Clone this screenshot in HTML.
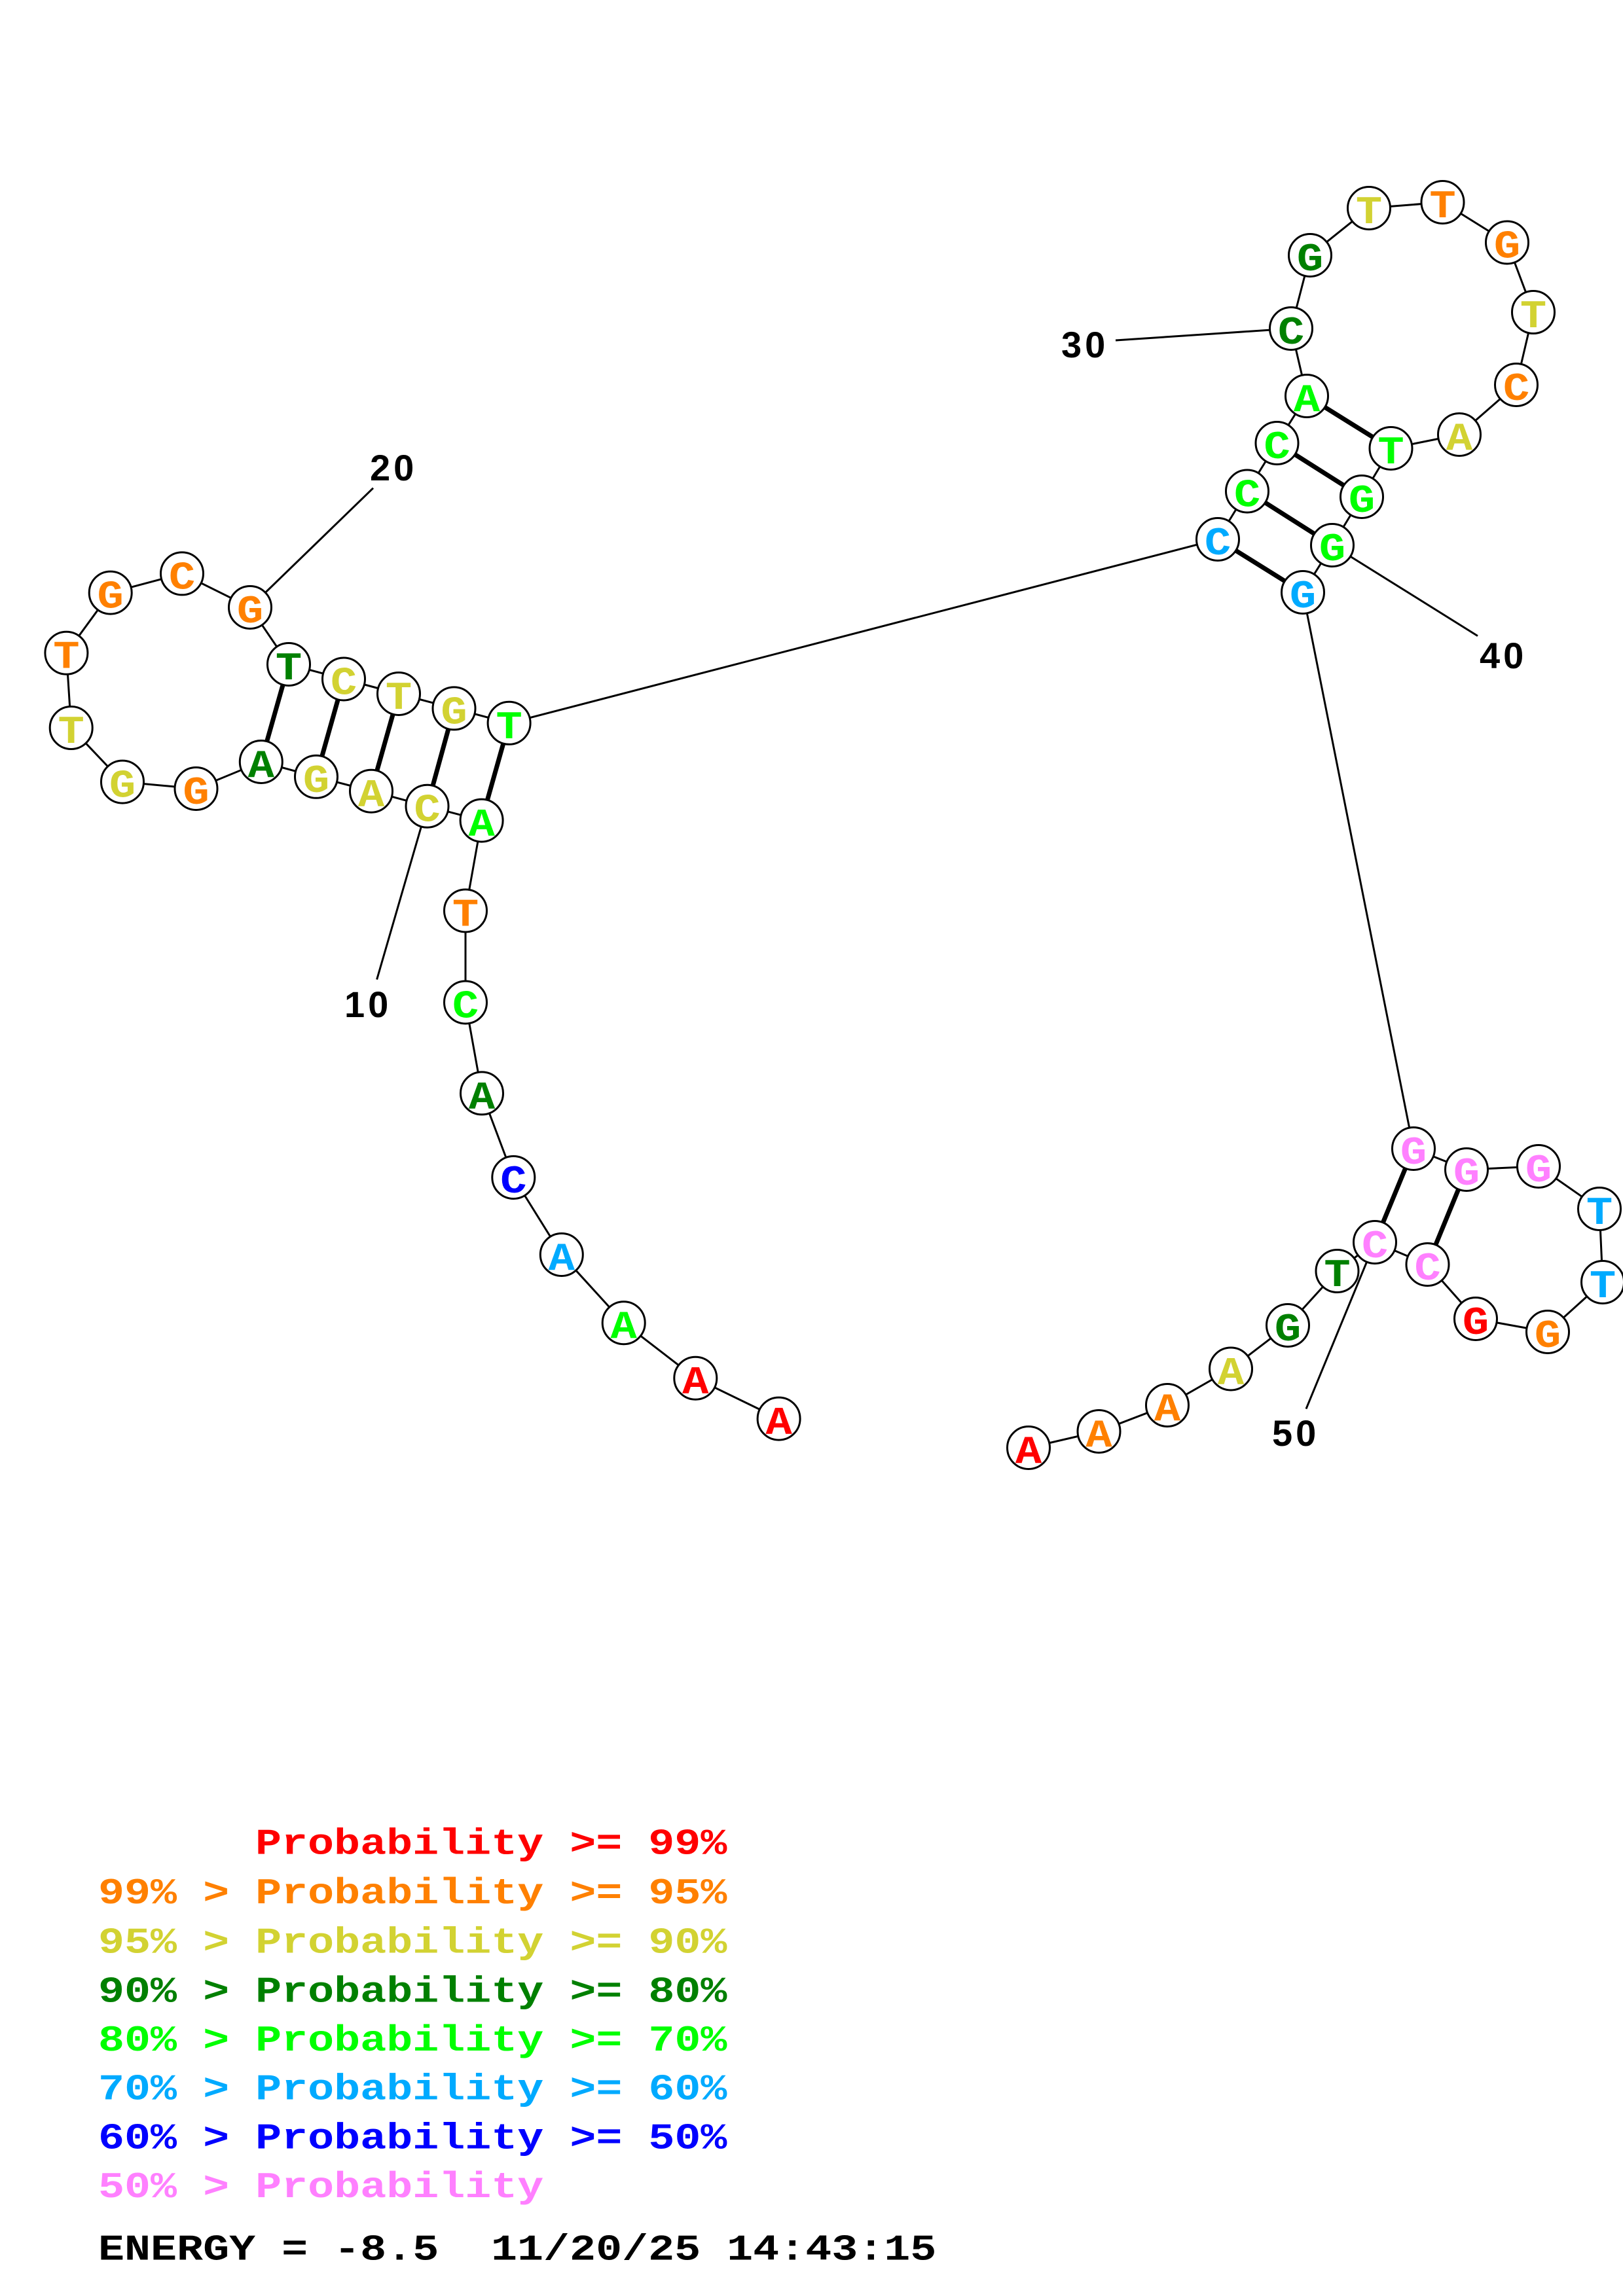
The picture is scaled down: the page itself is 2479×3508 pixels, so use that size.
<!DOCTYPE html>
<html>
<head>
<meta charset="utf-8">
<style>
html,body{margin:0;padding:0;background:#fff;}
svg{display:block;}
.n circle{fill:#fff;stroke:#000;stroke-width:3;}
.n text{font-family:"Liberation Mono",monospace;font-weight:bold;font-size:60px;text-anchor:middle;}
.lg text{font-family:"Liberation Mono",monospace;font-weight:bold;font-size:66.7px;}
.lb{font-family:"Liberation Sans",sans-serif;font-weight:bold;font-size:56px;letter-spacing:5px;fill:#000;}
</style>
</head>
<body>
<svg width="2479" height="3508" viewBox="0 0 2479 3508" xmlns="http://www.w3.org/2000/svg">
<rect width="2479" height="3508" fill="#fff"/>
<polyline fill="none" stroke="#000" stroke-width="3" points="1189.6,2167.6 1062.3,2105.7 952.7,2021.2 857.8,1917 784.3,1799 736,1670.4 711,1531.5 711,1391.5 735.6,1253.6 652.5,1231.7 567,1208.7 483,1186.8 398.8,1164 299.5,1205 187,1194.6 108.7,1112 101.4,997.7 168.7,905.6 278,876.4 382,928 441,1015 525,1037.5 609,1060 693.5,1082.4 777.6,1104.8 1860,824 1905,750.5 1950.5,677 1996,605 1972,502 2001,390 2091,318 2203.5,309 2302,370.5 2342,477 2316,588 2229,664 2124.5,685 2080,759 2035,833 1990,905 2159,1755 2240,1787 2350,1782 2443,1847 2448,1959 2364,2035 2254,2015 2180.5,1932 2100,1898 2042.5,1942 1967,2025 1880,2091.5 1783,2147 1678.5,2187 1571,2212"/>
<g stroke="#000" stroke-width="7">
<line x1="735.6" y1="1253.6" x2="777.6" y2="1104.8"/>
<line x1="652.5" y1="1231.7" x2="693.5" y2="1082.4"/>
<line x1="567" y1="1208.7" x2="609" y2="1060"/>
<line x1="483" y1="1186.8" x2="525" y2="1037.5"/>
<line x1="398.8" y1="1164" x2="441" y2="1015"/>
<line x1="1860" y1="824" x2="1990" y2="905"/>
<line x1="1905" y1="750.5" x2="2035" y2="833"/>
<line x1="1950.5" y1="677" x2="2080" y2="759"/>
<line x1="1996" y1="605" x2="2124.5" y2="685"/>
<line x1="2159" y1="1755" x2="2100" y2="1898"/>
<line x1="2240" y1="1787" x2="2180.5" y2="1932"/>
</g>
<g stroke="#000" stroke-width="3">
<line x1="652.5" y1="1231.7" x2="575.6" y2="1496.6"/>
<line x1="382" y1="928" x2="570" y2="745.7"/>
<line x1="1972" y1="502" x2="1704" y2="520"/>
<line x1="2035" y1="833" x2="2257" y2="971.6"/>
<line x1="2100" y1="1898" x2="1995" y2="2152.6"/>
</g>
<text class="lb" x="526" y="1554">10</text>
<text class="lb" x="565" y="734">20</text>
<text class="lb" x="1621" y="546">30</text>
<text class="lb" x="2260" y="1021">40</text>
<text class="lb" x="1943" y="2209">50</text>
<g class="n">
<circle cx="1189.6" cy="2167.6" r="32.5"/><text transform="translate(1189.6,2190.6) scale(1.12,1)" fill="#FF0000">A</text>
<circle cx="1062.3" cy="2105.7" r="32.5"/><text transform="translate(1062.3,2128.7) scale(1.12,1)" fill="#FF0000">A</text>
<circle cx="952.7" cy="2021.2" r="32.5"/><text transform="translate(952.7,2044.2) scale(1.12,1)" fill="#00FF00">A</text>
<circle cx="857.8" cy="1917" r="32.5"/><text transform="translate(857.8,1940) scale(1.12,1)" fill="#00AAFF">A</text>
<circle cx="784.3" cy="1799" r="32.5"/><text transform="translate(784.3,1822) scale(1.12,1)" fill="#0000FF">C</text>
<circle cx="736" cy="1670.4" r="32.5"/><text transform="translate(736,1693.4) scale(1.12,1)" fill="#008000">A</text>
<circle cx="711" cy="1531.5" r="32.5"/><text transform="translate(711,1554.5) scale(1.12,1)" fill="#00FF00">C</text>
<circle cx="711" cy="1391.5" r="32.5"/><text transform="translate(711,1414.5) scale(1.12,1)" fill="#FF8000">T</text>
<circle cx="735.6" cy="1253.6" r="32.5"/><text transform="translate(735.6,1276.6) scale(1.12,1)" fill="#00FF00">A</text>
<circle cx="652.5" cy="1231.7" r="32.5"/><text transform="translate(652.5,1254.7) scale(1.12,1)" fill="#D2D232">C</text>
<circle cx="567" cy="1208.7" r="32.5"/><text transform="translate(567,1231.7) scale(1.12,1)" fill="#D2D232">A</text>
<circle cx="483" cy="1186.8" r="32.5"/><text transform="translate(483,1209.8) scale(1.12,1)" fill="#D2D232">G</text>
<circle cx="398.8" cy="1164" r="32.5"/><text transform="translate(398.8,1187) scale(1.12,1)" fill="#008000">A</text>
<circle cx="299.5" cy="1205" r="32.5"/><text transform="translate(299.5,1228) scale(1.12,1)" fill="#FF8000">G</text>
<circle cx="187" cy="1194.6" r="32.5"/><text transform="translate(187,1217.6) scale(1.12,1)" fill="#D2D232">G</text>
<circle cx="108.7" cy="1112" r="32.5"/><text transform="translate(108.7,1135) scale(1.12,1)" fill="#D2D232">T</text>
<circle cx="101.4" cy="997.7" r="32.5"/><text transform="translate(101.4,1020.7) scale(1.12,1)" fill="#FF8000">T</text>
<circle cx="168.7" cy="905.6" r="32.5"/><text transform="translate(168.7,928.6) scale(1.12,1)" fill="#FF8000">G</text>
<circle cx="278" cy="876.4" r="32.5"/><text transform="translate(278,899.4) scale(1.12,1)" fill="#FF8000">C</text>
<circle cx="382" cy="928" r="32.5"/><text transform="translate(382,951) scale(1.12,1)" fill="#FF8000">G</text>
<circle cx="441" cy="1015" r="32.5"/><text transform="translate(441,1038) scale(1.12,1)" fill="#008000">T</text>
<circle cx="525" cy="1037.5" r="32.5"/><text transform="translate(525,1060.5) scale(1.12,1)" fill="#D2D232">C</text>
<circle cx="609" cy="1060" r="32.5"/><text transform="translate(609,1083) scale(1.12,1)" fill="#D2D232">T</text>
<circle cx="693.5" cy="1082.4" r="32.5"/><text transform="translate(693.5,1105.4) scale(1.12,1)" fill="#D2D232">G</text>
<circle cx="777.6" cy="1104.8" r="32.5"/><text transform="translate(777.6,1127.8) scale(1.12,1)" fill="#00FF00">T</text>
<circle cx="1860" cy="824" r="32.5"/><text transform="translate(1860,847) scale(1.12,1)" fill="#00AAFF">C</text>
<circle cx="1905" cy="750.5" r="32.5"/><text transform="translate(1905,773.5) scale(1.12,1)" fill="#00FF00">C</text>
<circle cx="1950.5" cy="677" r="32.5"/><text transform="translate(1950.5,700) scale(1.12,1)" fill="#00FF00">C</text>
<circle cx="1996" cy="605" r="32.5"/><text transform="translate(1996,628) scale(1.12,1)" fill="#00FF00">A</text>
<circle cx="1972" cy="502" r="32.5"/><text transform="translate(1972,525) scale(1.12,1)" fill="#008000">C</text>
<circle cx="2001" cy="390" r="32.5"/><text transform="translate(2001,413) scale(1.12,1)" fill="#008000">G</text>
<circle cx="2091" cy="318" r="32.5"/><text transform="translate(2091,341) scale(1.12,1)" fill="#D2D232">T</text>
<circle cx="2203.5" cy="309" r="32.5"/><text transform="translate(2203.5,332) scale(1.12,1)" fill="#FF8000">T</text>
<circle cx="2302" cy="370.5" r="32.5"/><text transform="translate(2302,393.5) scale(1.12,1)" fill="#FF8000">G</text>
<circle cx="2342" cy="477" r="32.5"/><text transform="translate(2342,500) scale(1.12,1)" fill="#D2D232">T</text>
<circle cx="2316" cy="588" r="32.5"/><text transform="translate(2316,611) scale(1.12,1)" fill="#FF8000">C</text>
<circle cx="2229" cy="664" r="32.5"/><text transform="translate(2229,687) scale(1.12,1)" fill="#D2D232">A</text>
<circle cx="2124.5" cy="685" r="32.5"/><text transform="translate(2124.5,708) scale(1.12,1)" fill="#00FF00">T</text>
<circle cx="2080" cy="759" r="32.5"/><text transform="translate(2080,782) scale(1.12,1)" fill="#00FF00">G</text>
<circle cx="2035" cy="833" r="32.5"/><text transform="translate(2035,856) scale(1.12,1)" fill="#00FF00">G</text>
<circle cx="1990" cy="905" r="32.5"/><text transform="translate(1990,928) scale(1.12,1)" fill="#00AAFF">G</text>
<circle cx="2159" cy="1755" r="32.5"/><text transform="translate(2159,1778) scale(1.12,1)" fill="#FF80FF">G</text>
<circle cx="2240" cy="1787" r="32.5"/><text transform="translate(2240,1810) scale(1.12,1)" fill="#FF80FF">G</text>
<circle cx="2350" cy="1782" r="32.5"/><text transform="translate(2350,1805) scale(1.12,1)" fill="#FF80FF">G</text>
<circle cx="2443" cy="1847" r="32.5"/><text transform="translate(2443,1870) scale(1.12,1)" fill="#00AAFF">T</text>
<circle cx="2448" cy="1959" r="32.5"/><text transform="translate(2448,1982) scale(1.12,1)" fill="#00AAFF">T</text>
<circle cx="2364" cy="2035" r="32.5"/><text transform="translate(2364,2058) scale(1.12,1)" fill="#FF8000">G</text>
<circle cx="2254" cy="2015" r="32.5"/><text transform="translate(2254,2038) scale(1.12,1)" fill="#FF0000">G</text>
<circle cx="2180.5" cy="1932" r="32.5"/><text transform="translate(2180.5,1955) scale(1.12,1)" fill="#FF80FF">C</text>
<circle cx="2100" cy="1898" r="32.5"/><text transform="translate(2100,1921) scale(1.12,1)" fill="#FF80FF">C</text>
<circle cx="2042.5" cy="1942" r="32.5"/><text transform="translate(2042.5,1965) scale(1.12,1)" fill="#008000">T</text>
<circle cx="1967" cy="2025" r="32.5"/><text transform="translate(1967,2048) scale(1.12,1)" fill="#008000">G</text>
<circle cx="1880" cy="2091.5" r="32.5"/><text transform="translate(1880,2114.5) scale(1.12,1)" fill="#D2D232">A</text>
<circle cx="1783" cy="2147" r="32.5"/><text transform="translate(1783,2170) scale(1.12,1)" fill="#FF8000">A</text>
<circle cx="1678.5" cy="2187" r="32.5"/><text transform="translate(1678.5,2210) scale(1.12,1)" fill="#FF8000">A</text>
<circle cx="1571" cy="2212" r="32.5"/><text transform="translate(1571,2235) scale(1.12,1)" fill="#FF0000">A</text>
</g>
<g class="lg">
<text transform="translate(390,2832.5) scale(1,0.83)" fill="#FF0000">Probability &gt;= 99%</text>
<text transform="translate(150,2908) scale(1,0.83)" fill="#FF8000">99% &gt; Probability &gt;= 95%</text>
<text transform="translate(150,2983.6) scale(1,0.83)" fill="#D2D232">95% &gt; Probability &gt;= 90%</text>
<text transform="translate(150,3058.4) scale(1,0.83)" fill="#008000">90% &gt; Probability &gt;= 80%</text>
<text transform="translate(150,3132.8) scale(1,0.83)" fill="#00FF00">80% &gt; Probability &gt;= 70%</text>
<text transform="translate(150,3207.7) scale(1,0.83)" fill="#00AAFF">70% &gt; Probability &gt;= 60%</text>
<text transform="translate(150,3282.5) scale(1,0.83)" fill="#0000FF">60% &gt; Probability &gt;= 50%</text>
<text transform="translate(150,3357) scale(1,0.83)" fill="#FF80FF">50% &gt; Probability</text>
<text transform="translate(150,3452.4) scale(1,0.83)" fill="#000000">ENERGY = -8.5</text>
<text transform="translate(750,3452.4) scale(1,0.83)" fill="#000000">11/20/25 14:43:15</text>
</g>
</svg>
</body>
</html>
